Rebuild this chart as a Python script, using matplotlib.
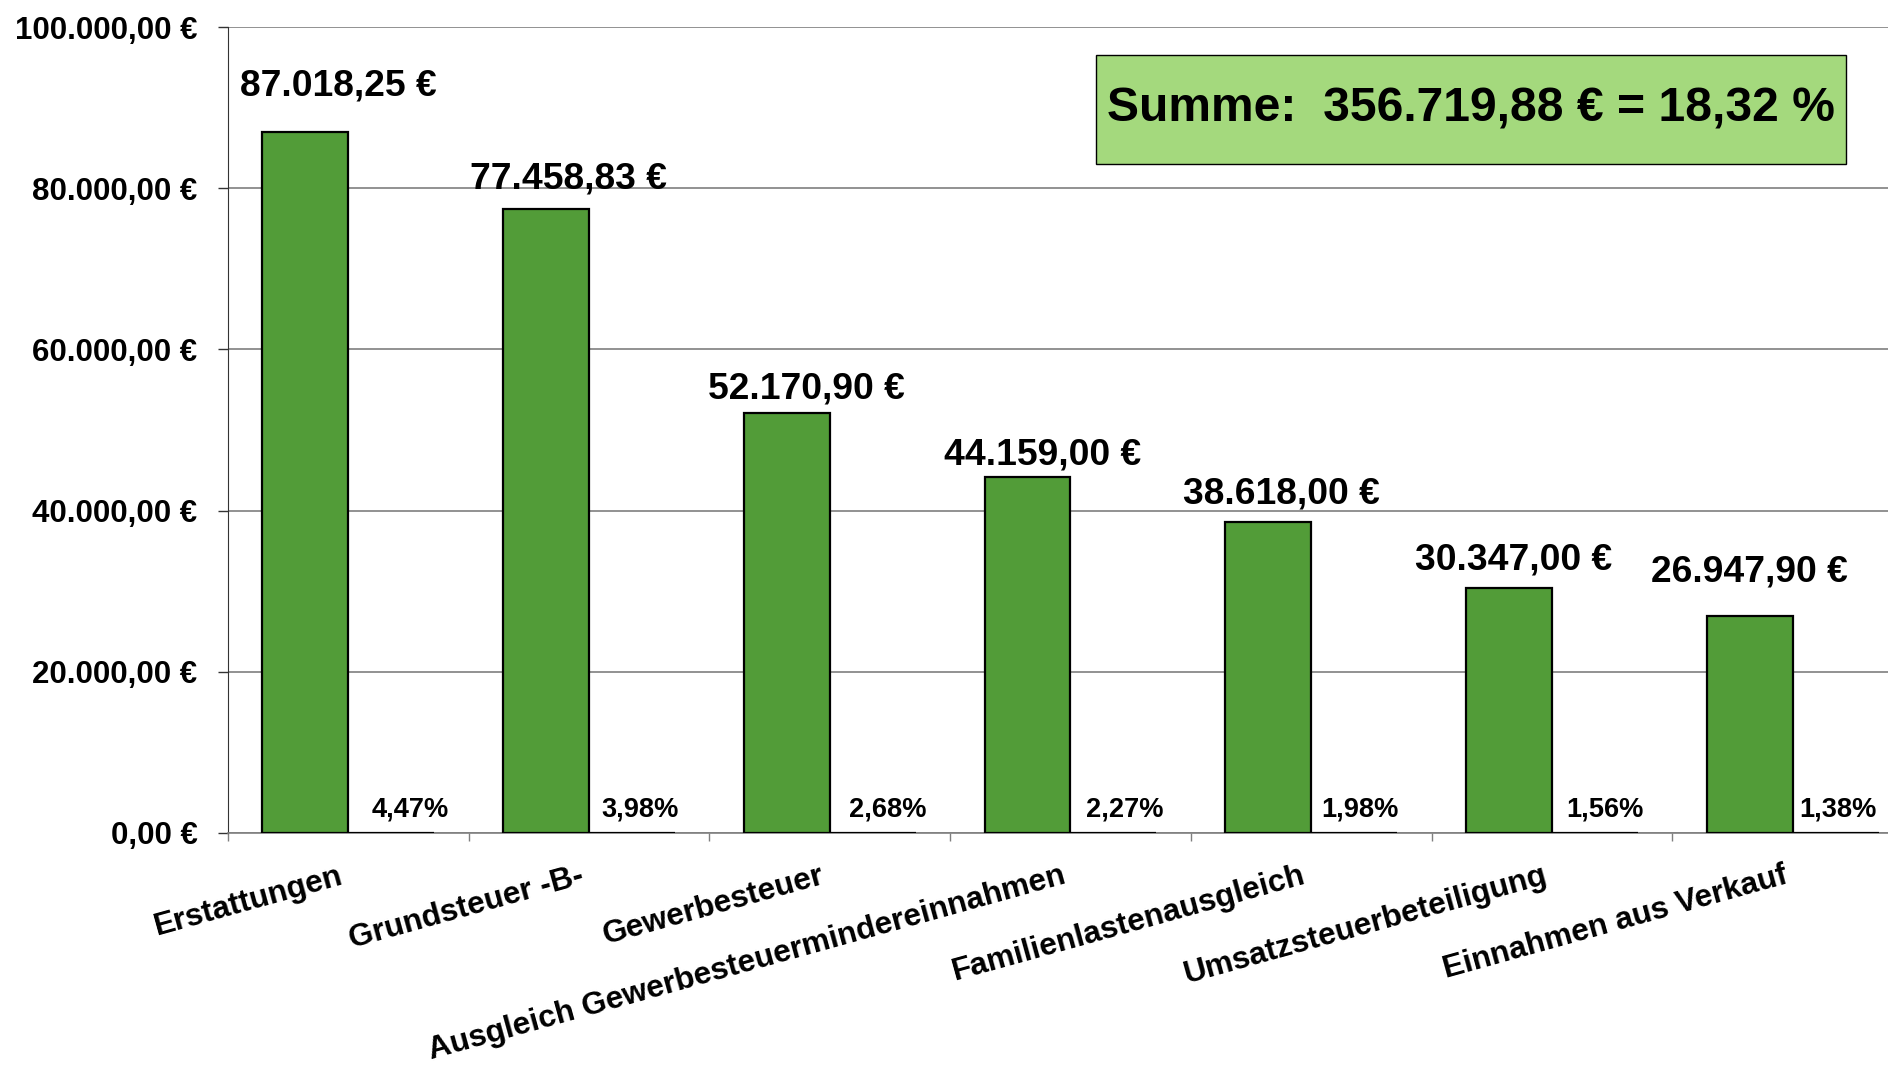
import numpy as np
import matplotlib
matplotlib.use("Agg")
import matplotlib.pyplot as plt
import matplotlib.transforms as mtransforms
from matplotlib.patches import Rectangle
from matplotlib.font_manager import fontManager

# Daten
kategorien = ["Erstattungen", "Grundsteuer -B-", "Gewerbesteuer",
              "Ausgleich Gewerbesteuermindereinnahmen", "Familienlastenausgleich",
              "Umsatzsteuerbeteiligung", "Einnahmen aus Verkauf"]
betraege = [87018.25, 77458.83, 52170.90, 44159.00, 38618.00, 30347.00, 26947.90]
prozente = [4.47, 3.98, 2.68, 2.27, 1.98, 1.56, 1.38]
y_ticks = [0, 20000, 40000, 60000, 80000, 100000]

# Lage der Beschriftungen (Pixel relativ zum Balken)
label_dx = [33, 22, 20, 15, 13, 5, 0]
label_dy = [36, 20, 14, 13, 18, 19, 34]
pct_dx = [19, 8, 15, 11, 6, 10, 2]

GRUEN = "#529c38"
BOX_GRUEN = "#a4d97d"


def euro(v):
    """Formatiert eine Zahl im deutschen Format mit Euro-Zeichen."""
    s = f"{v:,.2f}".replace(",", "X").replace(".", ",").replace("X", ".")
    return s + " €"


def prozent(v, sep=""):
    return f"{v:.2f}".replace(".", ",") + sep + "%"


plt.rcParams["font.family"] = "Liberation Sans"
plt.rcParams["font.weight"] = "bold"

fig = plt.figure(figsize=(18.88, 10.66), dpi=100)
# Achse reicht absichtlich leicht über den rechten Bildrand hinaus
ax = fig.add_axes([0.1208, 0.2186, 0.8924, 0.756])

x = np.arange(len(kategorien))
w = 0.357
ax.bar(x - w / 2, betraege, width=w, color=GRUEN, edgecolor="black",
       linewidth=1.6, zorder=3)
ax.bar(x + w / 2, prozente, width=w, color=GRUEN, edgecolor="black",
       linewidth=1.6, zorder=3)

ax.set_xlim(-0.5, len(kategorien) - 0.5)
ax.set_ylim(0, 100000)

# Gitter und Achsen
ax.set_yticks(y_ticks)
ax.set_yticklabels([euro(v) for v in y_ticks])
ax.yaxis.grid(True, color="#7f7f7f", linewidth=1.2, zorder=0)
ax.tick_params(axis="y", direction="out", length=7, width=1, color="#333333",
               labelsize=22.5, pad=15)

ax.set_xticks(np.arange(len(kategorien) + 1) - 0.5)
ax.set_xticklabels([])
ax.tick_params(axis="x", which="major", direction="out", length=6, width=1,
               color="#7f7f7f")
ax.set_xticks(x, minor=True)
ax.set_xticklabels(kategorien, minor=True, rotation=15.5, ha="right", va="top",
                   rotation_mode="anchor", fontsize=22.7)
ax.tick_params(axis="x", which="minor", length=0, pad=20)
shift = mtransforms.ScaledTranslation(-0.10, 0, fig.dpi_scale_trans)
for lbl in ax.get_xticklabels(minor=True):
    lbl.set_transform(lbl.get_transform() + shift)

for side in ["top", "right"]:
    ax.spines[side].set_visible(False)
ax.spines["left"].set_color("#333333")
ax.spines["bottom"].set_color("#7f7f7f")
ax.spines["bottom"].set_linewidth(1.2)

# Beschriftungen
for i, (b, p) in enumerate(zip(betraege, prozente)):
    ax.annotate(euro(b), (x[i] - w / 2, b), xytext=(label_dx[i], label_dy[i]),
                textcoords="offset pixels", ha="center", va="baseline",
                fontsize=26.8, fontweight="bold")
    ax.annotate(prozent(p), (x[i] + w / 2, 0), xytext=(pct_dx[i], 16),
                textcoords="offset pixels", ha="center", va="baseline",
                fontsize=19.6, fontweight="bold")

# Summenkasten
namen = {f.name for f in fontManager.ttflist}
if "Liberation Sans Narrow" in namen:
    box_font, box_size = "Liberation Sans Narrow", 41
else:
    box_font, box_size = "Liberation Sans", 34.6

summe = sum(betraege)
summe_proz = sum(prozente)
fig.patches.append(Rectangle((0.5805, 0.8462), 0.3972, 0.1023,
                             transform=fig.transFigure, facecolor=BOX_GRUEN,
                             edgecolor="black", linewidth=1.0, zorder=5))
fig.text(0.7791, 0.8973, f"Summe:  {euro(summe)} = {prozent(summe_proz, ' ')}",
         ha="center", va="center", fontsize=box_size, fontweight="bold",
         family=box_font, zorder=6)

fig.savefig("out.png", dpi=100)
